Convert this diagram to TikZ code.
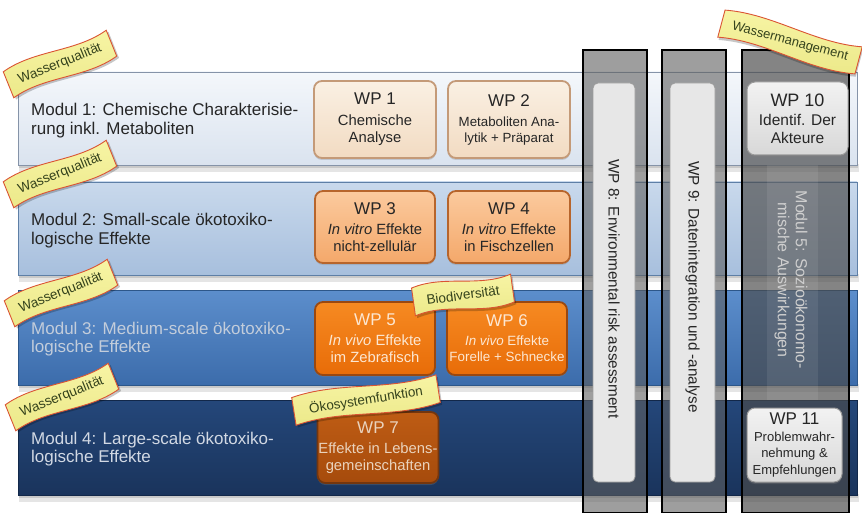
\documentclass[tikz,border=0pt]{standalone}
\usepackage{fontspec}
\setmainfont{Liberation Sans}
\usetikzlibrary{shadows}

\definecolor{bOneT}{HTML}{F4F7FB}
\definecolor{bOneB}{HTML}{DAE3EF}
\definecolor{bOneL}{HTML}{8593A8}
\definecolor{bTwoT}{HTML}{C9D9EC}
\definecolor{bTwoB}{HTML}{A7BFDD}
\definecolor{bTwoL}{HTML}{5E7FA6}
\definecolor{bThrT}{HTML}{5C8ECC}
\definecolor{bThrB}{HTML}{3C6CAB}
\definecolor{bThrL}{HTML}{2D578A}
\definecolor{bFouT}{HTML}{24477A}
\definecolor{bFouB}{HTML}{1A345C}
\definecolor{bFouL}{HTML}{12284A}
\definecolor{txtDark}{HTML}{262626}
\definecolor{txtThr}{HTML}{C3CDDB}
\definecolor{txtFou}{HTML}{D2D9E4}
\definecolor{wOneT}{HTML}{FAF0E3}
\definecolor{wOneB}{HTML}{F2DBC2}
\definecolor{wOneL}{HTML}{C49A78}
\definecolor{wTwoT}{HTML}{FBCA9E}
\definecolor{wTwoB}{HTML}{F4A86A}
\definecolor{wTwoL}{HTML}{B7652C}
\definecolor{wThrT}{HTML}{F68A22}
\definecolor{wThrB}{HTML}{E86C08}
\definecolor{wThrL}{HTML}{9A4810}
\definecolor{wThrX}{HTML}{FCE7D2}
\definecolor{wSevT}{HTML}{BE5C14}
\definecolor{wSevB}{HTML}{A64B0C}
\definecolor{wSevL}{HTML}{74360E}
\definecolor{wSevX}{HTML}{EAD3BD}
\definecolor{wGrT}{HTML}{F2F2F2}
\definecolor{wGrB}{HTML}{D8D8D8}
\definecolor{wGrL}{HTML}{9A9A9A}
\definecolor{colFill}{HTML}{5E5E5E}
\definecolor{colFive}{HTML}{4A4A4A}
\definecolor{barFill}{HTML}{E7E7E7}
\definecolor{barLine}{HTML}{9C9C9C}
\definecolor{modFive}{HTML}{CFCFCF}
\definecolor{tagFill}{HTML}{F7F4A4}
\definecolor{tagFillB}{HTML}{ECE98A}
\definecolor{tagLine}{HTML}{DA5433}
\definecolor{tagText}{HTML}{34421C}

\newcommand\wptitle[1]{{\fontsize{17}{19}\selectfont #1}}
\newcommand\ribbonpath[1]{(-#1/2,-14) .. controls (-#1/6,-23) and (#1/6,-5) .. (#1/2,-14) -- (#1/2,14) .. controls (#1/6,23) and (-#1/6,5) .. (-#1/2,14) -- cycle}
% name, x, y, angle, width, text, font size
\newcommand\tagribbon[7]{%
\begin{scope}[shift={(#2,#3)},rotate=#4]
  \fill[black,opacity=.22,xshift=1.5pt,yshift=-2.5pt] \ribbonpath{#5};
  \path[top color=tagFill,bottom color=tagFillB,draw=tagLine,line width=.9pt] \ribbonpath{#5};
  \node[tagtext,font=\fontsize{#7}{#7}\selectfont] (#1) at (0,0) {#6};
\end{scope}}

\tikzset{
  bandtext/.style={anchor=west,align=left,inner sep=0pt,font=\fontsize{17}{18.7}\selectfont},
  wpbox/.style={rounded corners=8pt,line width=1.8pt,align=center,inner sep=1pt,
     font=\fontsize{14.8}{17}\selectfont,
     drop shadow={shadow xshift=0pt,shadow yshift=-2pt,opacity=.3}},
  wpone/.style={wpbox,top color=wOneT,bottom color=wOneB,draw=wOneL,text=txtDark},
  wptwo/.style={wpbox,top color=wTwoT,bottom color=wTwoB,draw=wTwoL,text=txtDark},
  wpthr/.style={wpbox,top color=wThrT,bottom color=wThrB,draw=wThrL,text=wThrX},
  wpsev/.style={wpbox,top color=wSevT,bottom color=wSevB,draw=wSevL,text=wSevX},
  wpgray/.style={wpbox,top color=wGrT,bottom color=wGrB,draw=wGrL,line width=1pt,text=txtDark},
  column/.style={fill=colFill,fill opacity=.6,draw=black,line width=1.3pt},
  bar/.style={fill=barFill,draw=barLine,line width=.8pt,rounded corners=5pt},
  coltext/.style={rotate=-90,inner sep=0pt,font=\fontsize{15.3}{17}\selectfont,text=txtDark},
  tagtext/.style={transform shape,inner sep=0pt,text=tagText},
}

\begin{document}
\begin{tikzpicture}[x=1pt,y=-1pt]
\fill[white] (0,0) rectangle (862,513);
\useasboundingbox (0,0) rectangle (862,513);

% band shadows
\foreach \b in {165,275,385,495}{
  \fill[black,opacity=.10] (19,\b-1) rectangle (859,\b+7);
  \fill[black,opacity=.12] (19,\b-1) rectangle (858,\b+3);
}
% bands
\path[top color=bOneT,bottom color=bOneB,draw=bOneL,line width=.8pt] (18,72) rectangle (857,165);
\path[top color=bTwoT,bottom color=bTwoB,draw=bTwoL,line width=.8pt] (18,182) rectangle (857,275);
\path[top color=bThrT,bottom color=bThrB,draw=bThrL,line width=.8pt] (18,290) rectangle (857,385);
\path[top color=bFouT,bottom color=bFouB,draw=bFouL,line width=.8pt] (18,400) rectangle (857,495);

% band texts
\node[bandtext,text=txtDark] (m1) at (31,120.5) {Modul 1: Chemische Charakterisie-\\rung inkl. Metaboliten};
\node[bandtext,text=txtDark] (m2) at (31,230.5) {Modul 2: Small-scale ökotoxiko-\\logische Effekte};
\node[bandtext,text=txtThr] (m3) at (31,339) {Modul 3: Medium-scale ökotoxiko-\\logische Effekte};
\node[bandtext,text=txtFou] (m4) at (31,449) {Modul 4: Large-scale ökotoxiko-\\logische Effekte};

% work packages in the bands
\node[wpone,minimum width=122pt,minimum height=77pt] (wp1) at (375,119.5) {\wptitle{WP 1}\\[4pt]Chemische\\Analyse};
\node[wpone,minimum width=122pt,minimum height=77pt,font=\fontsize{13.3}{16}\selectfont] (wp2) at (509,119.5) {\wptitle{WP 2}\\[4pt]Metaboliten Ana-\\lytik + Präparat};
\node[wptwo,minimum width=120pt,minimum height=72pt] (wp3) at (375,227) {\wptitle{WP 3}\\[3pt]\textit{In vitro} Effekte\\nicht-zellulär};
\node[wptwo,minimum width=122pt,minimum height=72pt] (wp4) at (509,227) {\wptitle{WP 4}\\[3pt]\textit{In vitro} Effekte\\in Fischzellen};
\node[wpthr,minimum width=120pt,minimum height=73pt] (wp5) at (375,338.5) {\wptitle{WP 5}\\[3pt]\textit{In vivo} Effekte\\im Zebrafisch};
\node[wpthr,minimum width=120pt,minimum height=73pt,font=\fontsize{13.4}{16}\selectfont] (wp6) at (507,338.5) {\wptitle{WP 6}\\[3pt]\textit{In vivo} Effekte\\Forelle + Schnecke};
\node[wpsev,minimum width=120pt,minimum height=71pt] (wp7) at (378,447.5) {\wptitle{WP 7}\\[3pt]Effekte in Lebens-\\gemeinschaften};

% columns
\path[column] (583,50) rectangle (647,513);
\path[column] (662,50) rectangle (726,513);
\path[column,fill=colFive,fill opacity=.68] (742,50) rectangle (849,513);
\fill[white,opacity=.08] (767,165) rectangle (818,400);

\path[bar] (593,83) rectangle (635,482);
\path[bar] (670,83) rectangle (715,482);

\node[coltext] (wp8) at (614,289) {WP 8: Environmental risk assessment};
\node[coltext] (wp9) at (692.5,287) {WP 9: Datenintegration und -analyse};
\node[coltext,align=center,text=modFive,font=\fontsize{16}{18}\selectfont] (m5) at (791,280) {Modul 5: Sozioökonomo-\\mische Auswirkungen};

\node[wpgray,minimum width=101pt,minimum height=73pt,font=\fontsize{15.5}{18}\selectfont] (wp10) at (797.5,118.5) {{\fontsize{18}{20}\selectfont WP 10}\\[1pt]Identif. Der\\Akteure};
\node[wpgray,minimum width=95pt,minimum height=74pt,font=\fontsize{13}{16.5}\selectfont] (wp11) at (794.5,445) {\wptitle{WP 11}\\[0pt]Problemwahr-\\nehmung \&\\Empfehlungen};

% tags
\tagribbon{wq1}{60}{64}{22}{111}{Wasserqualität}{13.5}
\tagribbon{wq2}{60}{174}{22}{111}{Wasserqualität}{13.5}
\tagribbon{wq3}{61}{293}{22}{111}{Wasserqualität}{13.5}
\tagribbon{wq4}{62}{397}{22}{111}{Wasserqualität}{13.5}
\tagribbon{bio}{463}{295}{8}{100}{Biodiversität}{13.5}
\tagribbon{oeko}{366}{400}{9}{146}{Ökosystemfunktion}{13.5}
\tagribbon{wm}{790}{42}{-15}{142}{Wassermanagement}{13}
\end{tikzpicture}
\end{document}
